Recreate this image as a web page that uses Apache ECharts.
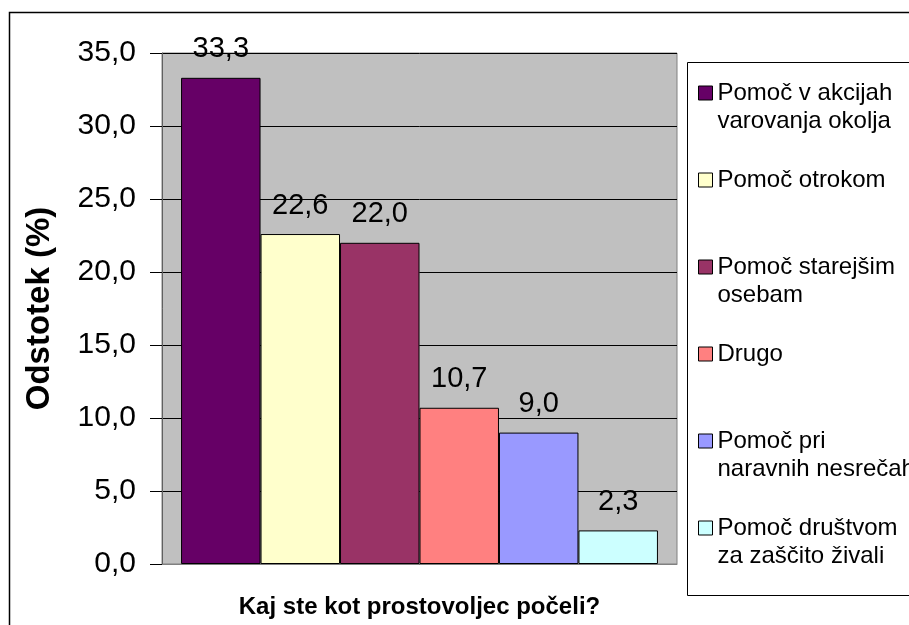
<!DOCTYPE html>
<html>
<head>
<meta charset="utf-8">
<script src="https://cdn.jsdelivr.net/npm/echarts@6/dist/echarts.min.js"></script>
<style>
  html, body { margin: 0; padding: 0; background: #fff; }
  #chart { width: 909px; height: 625px; }
</style>
</head>
<body>
<div id="chart"></div>
<script>
// data
const seriesNames = [
  'Pomoč v akcijah\nvarovanja okolja',
  'Pomoč otrokom',
  'Pomoč starejšim\nosebam',
  'Drugo',
  'Pomoč pri\nnaravnih nesrečah',
  'Pomoč društvom\nza zaščito živali'
]
const values = [33.3, 22.6, 22.0, 10.7, 9.0, 2.3]
const barColors = ['#660066', '#FFFFCC', '#993366', '#FF8080', '#9999FF', '#CCFFFF']
const yTicks = { min: 0, max: 35, interval: 5 }

const font = 'Liberation Sans, Arial, sans-serif'
const fmt = (v) => Number(v).toFixed(1).replace('.', ',')

const chart = echarts.init(document.getElementById('chart'))

const series = seriesNames.map((name, i) => ({
  name: name,
  type: 'bar',
  barGap: '0%',
  barCategoryGap: '7.4%',
  itemStyle: { color: barColors[i], borderColor: '#000', borderWidth: 1 },
  label: {
    show: true,
    position: 'top',
    distance: 14,
    color: '#000',
    fontFamily: font,
    fontSize: 29,
    formatter: (p) => fmt(p.value)
  },
  data: [values[i]]
}))

// legend entries: 3 lines so the marker sits on the first text line
const legendText = (name) => {
  const lines = name.split('\n')
  if (lines.length < 2) lines.push(' ')
  return ' \n' + lines.join('\n')
}

const option = {
  animation: false,
  backgroundColor: '#fff',
  grid: {
    left: 162,
    top: 53,
    right: 232,
    bottom: 61,
    outerBoundsMode: 'none',
    show: true,
    backgroundColor: '#C0C0C0',
    borderColor: '#808080',
    borderWidth: 1
  },
  legend: {
    orient: 'vertical',
    left: 698,
    top: 51,
    padding: 0,
    itemGap: 3,
    itemWidth: 14,
    itemHeight: 14,
    icon: 'rect',
    itemStyle: { borderColor: '#000', borderWidth: 1 },
    textStyle: {
      fontFamily: font,
      fontSize: 24,
      lineHeight: 28,
      color: '#000'
    },
    formatter: legendText,
    data: seriesNames
  },
  xAxis: {
    type: 'category',
    data: [''],
    name: 'Kaj ste kot prostovoljec počeli?',
    nameLocation: 'middle',
    nameGap: 31,
    nameTextStyle: { fontFamily: font, fontSize: 24, fontWeight: 'bold', color: '#000' },
    axisLine: { lineStyle: { color: '#808080' } },
    axisTick: { show: false },
    axisLabel: { show: false }
  },
  yAxis: {
    type: 'value',
    min: yTicks.min,
    max: yTicks.max,
    interval: yTicks.interval,
    name: 'Odstotek (%)',
    nameLocation: 'middle',
    nameRotate: 90,
    nameGap: 106,
    nameTextStyle: { fontFamily: font, fontSize: 33, fontWeight: 'bold', color: '#000' },
    axisLine: { show: true, lineStyle: { color: '#606060' } },
    axisTick: { show: true, length: 12, lineStyle: { color: '#000' } },
    axisLabel: {
      margin: 26,
      fontFamily: font,
      fontSize: 30,
      color: '#000',
      formatter: (v) => fmt(v)
    },
    splitLine: { show: true, lineStyle: { color: '#000', width: 1 } }
  },
  graphic: [
    {
      type: 'rect',
      left: 7,
      top: 10,
      shape: { width: 1000, height: 1000 },
      style: { fill: 'none', stroke: '#000', lineWidth: 1.5 },
      silent: true
    },
    {
      type: 'rect',
      left: 685,
      top: 60,
      shape: { width: 400, height: 533 },
      style: { fill: 'none', stroke: '#000', lineWidth: 1 },
      silent: true
    }
  ],
  series: series
}

chart.setOption(option)
</script>
</body>
</html>
